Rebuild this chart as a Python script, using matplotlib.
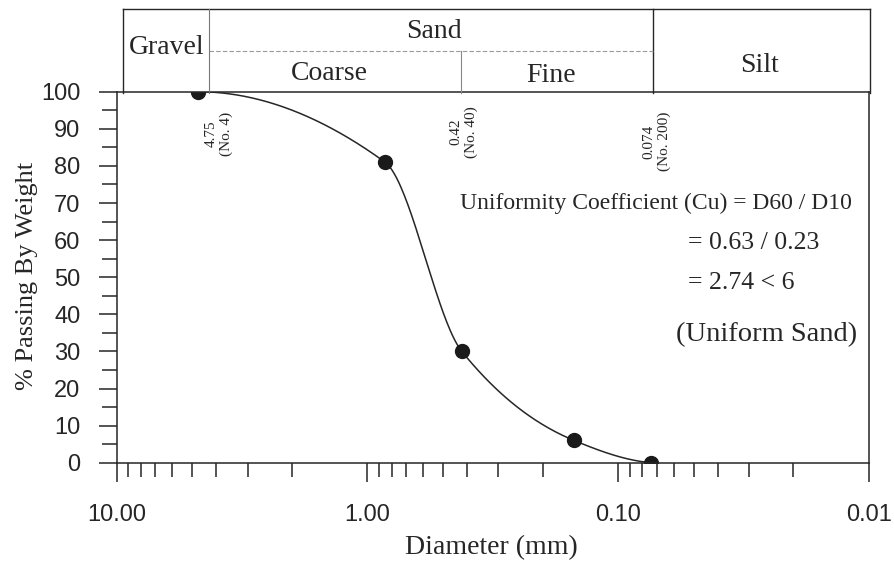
import matplotlib
matplotlib.use("Agg")
import matplotlib.pyplot as plt
import numpy as np

# sieve analysis
sieve_mm = [4.75, 0.85, 0.42, 0.15, 0.074]
passing = [100, 81, 30, 6, 0]

# sieves marked along the top
marked_sizes = [4.75, 0.42, 0.074]
marked_labels = ["4.75\n(No. 4)", "0.42\n(No. 40)", "0.074\n(No. 200)"]
marked_offsets = [(21, -42), (2, -40), (6, -50)]  # pixels

x_ticks = [10, 1, 0.1, 0.01]
x_tick_labels = ["10.00", "1.00", "0.10", "0.01"]
y_ticks = list(range(0, 101, 10))

cu_text = ["Uniformity Coefficient (Cu) = D60 / D10",
           "= 0.63 / 0.23",
           "= 2.74 < 6",
           "(Uniform Sand)"]

SERIF = "Liberation Serif"
SANS = "Liberation Sans"
INK = "#262626"
W, H = 894, 564


def pchip(xk, yk, xs):
    # monotone cubic through the points (xk ascending)
    xk = np.asarray(xk, float)
    yk = np.asarray(yk, float)
    h = np.diff(xk)
    d = np.diff(yk) / h
    n = len(xk)
    m = np.zeros(n)
    for k in range(1, n - 1):
        if d[k - 1] * d[k] > 0:
            w1 = 2 * h[k] + h[k - 1]
            w2 = h[k] + 2 * h[k - 1]
            m[k] = (w1 + w2) / (w1 / d[k - 1] + w2 / d[k])
    for k, (i0, i1) in ((0, (0, 1)), (n - 1, (n - 2, n - 3))):
        hh0, hh1 = h[i0], h[i1]
        dd0, dd1 = d[i0], d[i1]
        mk = ((2 * hh0 + hh1) * dd0 - hh0 * dd1) / (hh0 + hh1)
        if np.sign(mk) != np.sign(dd0):
            mk = 0
        elif np.sign(dd0) != np.sign(dd1) and abs(mk) > abs(3 * dd0):
            mk = 3 * dd0
        m[k] = mk
    idx = np.clip(np.searchsorted(xk, xs) - 1, 0, n - 2)
    t = (xs - xk[idx]) / h[idx]
    h00 = 2 * t**3 - 3 * t**2 + 1
    h10 = t**3 - 2 * t**2 + t
    h01 = -2 * t**3 + 3 * t**2
    h11 = t**3 - t**2
    return (h00 * yk[idx] + h10 * h[idx] * m[idx]
            + h01 * yk[idx + 1] + h11 * h[idx] * m[idx + 1])


fig = plt.figure(figsize=(W / 100, H / 100), dpi=100)
ax = fig.add_axes([116.5 / W, 1 - 462.7 / H, (869 - 116.5) / W, (462.7 - 91.7) / H])

lx = np.log10(sieve_mm)[::-1]
ly = np.array(passing, float)[::-1]
xs = np.linspace(lx[0], lx[-1], 400)
ax.plot(10**xs, pchip(lx, ly, xs), color=INK, lw=1.1)
ax.plot(sieve_mm, passing, "o", color="#1a1a1a", ms=10)

ax.set_xscale("log")
ax.set_xlim(10, 0.01)
ax.set_ylim(0, 100)
ax.set_xticks(x_ticks)
ax.set_xticklabels(x_tick_labels)
ax.set_yticks(y_ticks)
ax.set_yticks(range(5, 100, 10), minor=True)
ax.xaxis.set_minor_formatter(plt.NullFormatter())

for s in ax.spines.values():
    s.set_color(INK)
    s.set_linewidth(1.1)
ax.tick_params(which="major", direction="out", color=INK, width=1.1,
               labelsize=17, labelcolor=INK)
ax.tick_params(axis="x", which="major", length=14, pad=16)
ax.tick_params(axis="x", which="minor", length=10, width=1.1, color=INK)
ax.tick_params(axis="y", which="major", length=13, pad=13)
ax.tick_params(axis="y", which="minor", length=11, width=1.1, color=INK)
for lab in ax.get_xticklabels() + ax.get_yticklabels():
    lab.set_fontfamily(SANS)

for size, lbl, (dx, dy) in zip(marked_sizes, marked_labels, marked_offsets):
    ax.annotate(lbl, xy=(size, 100), xytext=(dx, dy), textcoords="offset pixels",
                rotation=90, ha="center", va="center", multialignment="center",
                fontsize=11, family=SERIF, color=INK)

# overlay in pixel units for the soil class table and notes
ov = fig.add_axes([0, 0, 1, 1])
ov.set_xlim(0, W)
ov.set_ylim(H, 0)
ov.axis("off")

top, mid, bot = 9, 51, 93
ov.plot([123, 870], [top, top], color=INK, lw=1.0)
ov.plot([123, 123], [top, bot], color=INK, lw=1.0)
ov.plot([870, 870], [top, bot], color=INK, lw=1.0)
ov.plot([209, 209], [top, bot], color="#777777", lw=0.8)
ov.plot([653, 653], [top, bot], color=INK, lw=1.0)
ov.plot([461, 461], [mid, bot], color="#888888", lw=0.8)
ov.plot([209, 653], [mid, mid], color="#999999", lw=0.8, ls=(0, (4, 2)))

cells = [("Gravel", 167, 48), ("Sand", 434, 32), ("Coarse", 329, 73),
         ("Fine", 551, 76), ("Silt", 760, 65)]
for txt, cx, cy in cells:
    ov.text(cx, cy, txt, ha="center", va="center", fontsize=20,
            family=SERIF, color=INK)

ov.text(852, 203, cu_text[0], ha="right", va="center", fontsize=17, family=SERIF, color=INK)
ov.text(688, 243, cu_text[1], ha="left", va="center", fontsize=18.5, family=SERIF, color=INK)
ov.text(688, 283, cu_text[2], ha="left", va="center", fontsize=18.5, family=SERIF, color=INK)
ov.text(857, 335, cu_text[3], ha="right", va="center", fontsize=20.5, family=SERIF, color=INK)

ov.text(27, 276, "% Passing By Weight", rotation=90, ha="center", va="center",
        fontsize=19, family=SERIF, color=INK)
ov.text(491, 548, "Diameter (mm)", ha="center", va="center", fontsize=20,
        family=SERIF, color=INK)

fig.savefig("out.png", dpi=100, facecolor="white")
